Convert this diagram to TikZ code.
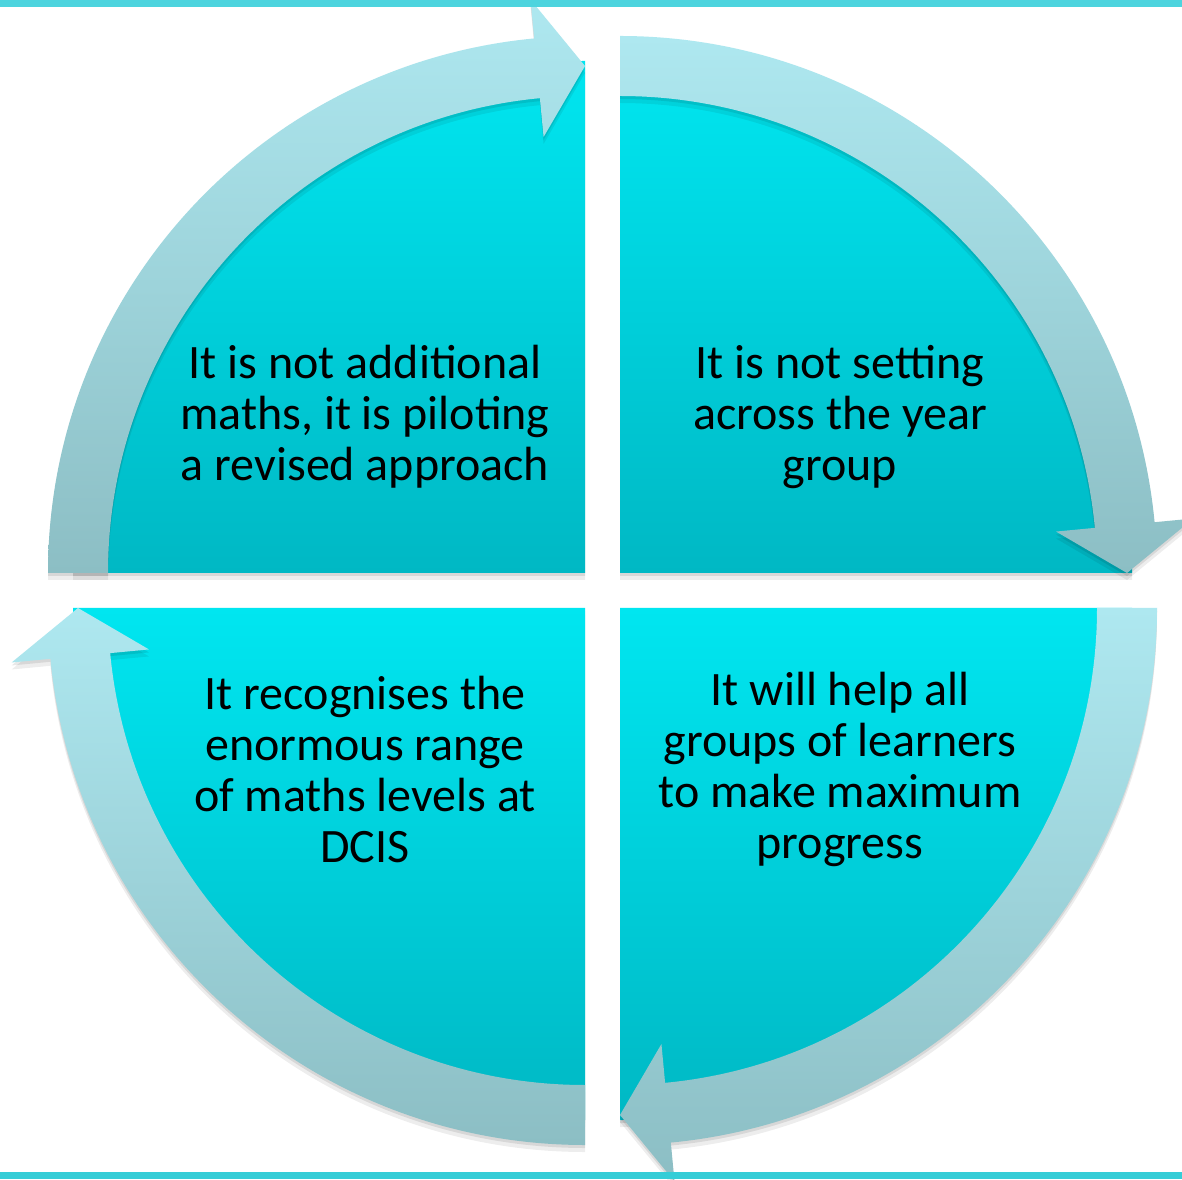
\documentclass[tikz,border=0pt]{standalone}
\usepackage{fontspec}
\setmainfont{Carlito}
\definecolor{pietop}{RGB}{0,230,240}
\definecolor{piebot}{RGB}{0,184,196}
\definecolor{bandtop}{RGB}{174,232,240}
\definecolor{bandbot}{RGB}{140,190,196}
\definecolor{edgetop}{RGB}{77,212,222}
\definecolor{edgebot}{RGB}{53,205,215}
% quarter-pie path: start angle #1, end angle #2
\newcommand\qpie[2]{(0,0) -- (#1:512) arc[start angle=#1,end angle=#2,radius=512] -- cycle}
% curved arrow band: start angle #1, arrowhead back angle #2, tip angle #3
\newcommand\qband[3]{(#1:537) arc[start angle=#1,end angle=#2,radius=537] -- (#2:576) -- (#3:507) -- (#2:438) -- (#2:477) arc[start angle=#2,end angle=#1,radius=477] -- cycle}
\tikzset{
  softshadow/.style={
    preaction={fill=black,opacity=0.07,transform canvas={yshift=-7pt}},
    preaction={fill=black,opacity=0.09,transform canvas={yshift=-3pt}}},
  piefill/.style={softshadow,top color=pietop,bottom color=piebot},
  bandfill/.style={softshadow,top color=bandtop,bottom color=bandbot},
  txt/.style={align=center,text=black,font=\fontsize{48}{51}\selectfont,inner sep=0pt}
}
\begin{document}
\begin{tikzpicture}[x=1pt,y=1pt]
\useasboundingbox (0,0) rectangle (1182,1179);
\clip (0,0) rectangle (1182,1179);
\fill[white] (0,0) rectangle (1182,1179);
% pies
\begin{scope}[shift={(585,606)}]
  \path[piefill] \qpie{180}{90};
\end{scope}
\begin{scope}[shift={(620,606)}]
  \path[piefill] \qpie{90}{0};
\end{scope}
\begin{scope}[shift={(620,571)}]
  \path[piefill] \qpie{0}{-90};
\end{scope}
\begin{scope}[shift={(585,571)}]
  \path[piefill] \qpie{-90}{-180};
\end{scope}
% arrow bands
\begin{scope}[shift={(585,606)}]
  \path[bandfill] \qband{180}{95.43}{90};
\end{scope}
\begin{scope}[shift={(620,606)}]
  \path[bandfill] \qband{90}{5.43}{0};
\end{scope}
\begin{scope}[shift={(620,571)}]
  \path[bandfill] \qband{0}{-84.57}{-90};
\end{scope}
\begin{scope}[shift={(585,571)}]
  \path[bandfill] \qband{-90}{-174.57}{-180};
\end{scope}
% texts
\node[txt] (tl) at (365,762) {It is not additional\\maths, it is piloting\\a revised approach};
\node[txt] (tr) at (840,762) {It is not setting\\across the year\\group};
\node[txt] (bl) at (365,410) {It recognises the\\enormous range\\of maths levels at\\DCIS};
\node[txt] (br) at (840,410) {It will help all\\groups of learners\\to make maximum\\progress};
% border lines
\fill[edgetop] (0,1172) rectangle (1182,1179);
\fill[edgebot] (0,0) rectangle (1182,7);
\end{tikzpicture}
\end{document}
